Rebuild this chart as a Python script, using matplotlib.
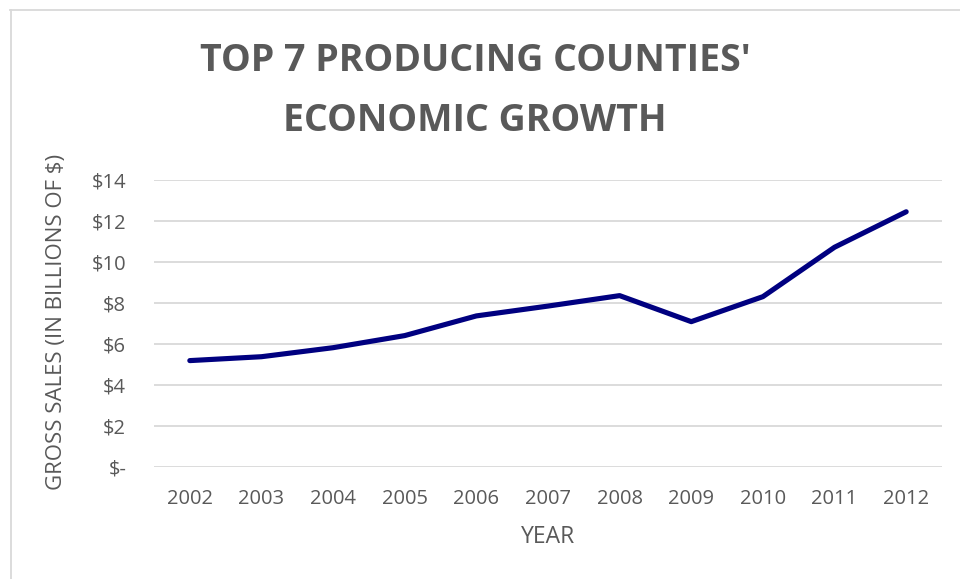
import matplotlib
matplotlib.use("Agg")
import matplotlib.pyplot as plt
from matplotlib.ticker import FuncFormatter, MultipleLocator
from matplotlib.lines import Line2D

years = ["2002", "2003", "2004", "2005", "2006", "2007", "2008", "2009", "2010", "2011", "2012"]
sales = [5.19, 5.38, 5.82, 6.41, 7.37, 7.85, 8.36, 7.09, 8.31, 10.72, 12.45]

title = "TOP 7 PRODUCING COUNTIES'\nECONOMIC GROWTH"
ylabel = "GROSS SALES (IN BILLIONS OF $)"
xlabel = "YEAR"

plt.rcParams['font.family'] = ['Open Sans', 'DejaVu Sans']
gray = "#595959"

W, H = 960, 579
fig = plt.figure(figsize=(W / 100, H / 100), dpi=100)
ax = fig.add_axes([154 / W, 1 - 467 / H, (942 - 154) / W, (467 - 180) / H])

x = list(range(len(years)))
ax.plot(x, sales, color="#000080", lw=3.7, solid_capstyle="round", solid_joinstyle="round", zorder=3)

ax.set_xlim(-0.5, len(years) - 0.5)
ax.set_ylim(0, 14)
ax.yaxis.set_major_locator(MultipleLocator(2))
ax.yaxis.set_major_formatter(FuncFormatter(lambda v, p: "$-" if v == 0 else f"${v:.0f}"))
ax.set_xticks(x)
ax.set_xticklabels(years)
ax.grid(axis="y", color="#d9d9d9", lw=1.3)
ax.set_axisbelow(True)
for s in ax.spines.values():
    s.set_visible(False)
ax.tick_params(length=0, colors=gray, labelsize=14.5)
ax.tick_params(axis="x", pad=16)
ax.tick_params(axis="y", pad=20)

fig.text(57 / W, 1 - 322 / H, ylabel, rotation=90, ha="center", va="center", color=gray, fontsize=16)
fig.text(548 / W, 1 - 537 / H, xlabel, ha="center", va="center", color=gray, fontsize=16.5)
fig.text(475 / W, 1 - 91 / H, title, ha="center", va="center", color=gray, fontsize=27,
         fontweight="bold", linespacing=1.77)

fig.add_artist(Line2D([10 / W, 1], [1 - 10 / H, 1 - 10 / H], color="#d9d9d9", lw=1.3, transform=fig.transFigure))
fig.add_artist(Line2D([10.5 / W, 10.5 / W], [0, 1 - 10 / H], color="#d9d9d9", lw=1.3, transform=fig.transFigure))

fig.savefig("out.png", dpi=100)
